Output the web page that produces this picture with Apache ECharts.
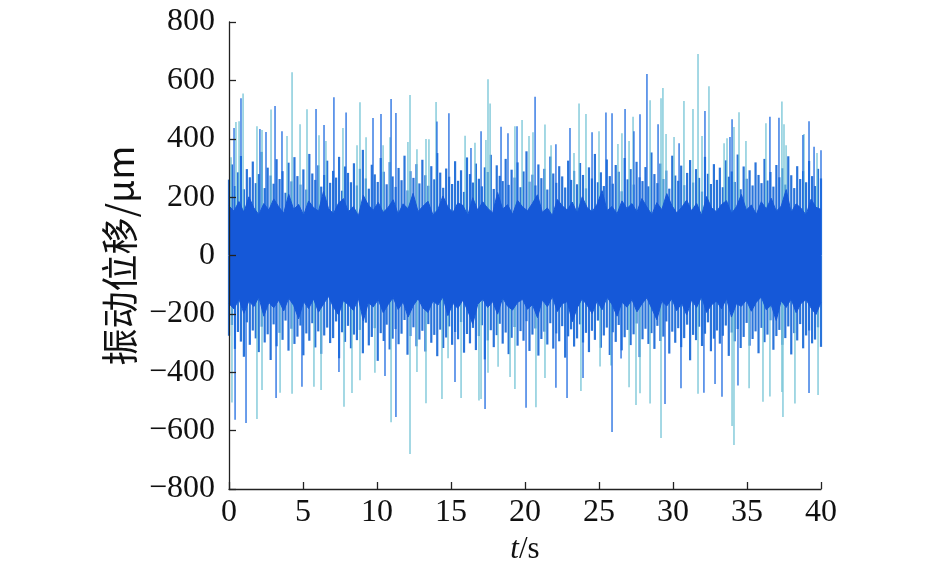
<!DOCTYPE html>
<html lang="zh">
<head>
    <meta charset="UTF-8">
    <script src="https://cdn.jsdelivr.net/npm/echarts@6/dist/echarts.min.js"></script>
    <title>振动位移</title>
</head>
<body style="margin:0;background:#fff;">
    <div id="main" style="width: 945px;height:576px;"></div>
    <script type="text/javascript">
      // 实心核心区的上下包络 (μm)，0~40 s 等间距
      var coreUp = [170,152,185,148,201,163,140,178,156,194,167,145,210,158,175,138,187,164,152,220,
        161,143,179,195,150,168,136,206,173,155,182,148,165,191,142,177,160,213,151,169,
        186,139,158,204,166,147,180,172,138,198,155,184,162,146,216,159,174,141,189,167,
        153,179,208,148,163,137,192,170,156,183,145,201,164,150,176,222,154,168,143,187,
        161,178,149,195,166,140,181,157,212,172,146,165,190,153,179,138,202,163,150,175,
        188,144,167,209,156,173,141,184,160,196,152,169,226,148,177,162,139,193,165,158];
      var coreDown = [-165,-183,-150,-198,-156,-175,-142,-208,-161,-179,-153,-190,-146,-171,-217,-158,-182,-149,-194,-166,
        -140,-177,-203,-155,-169,-188,-147,-224,-162,-176,-151,-196,-168,-144,-185,-159,-211,-173,-148,-180,
        -195,-156,-170,-142,-206,-164,-181,-153,-189,-235,-167,-149,-178,-158,-201,-145,-174,-187,-161,-150,
        -184,-168,-213,-152,-176,-141,-192,-165,-158,-227,-179,-148,-171,-199,-155,-186,-143,-168,-208,-160,
        -177,-151,-193,-166,-145,-182,-220,-157,-173,-148,-189,-163,-204,-152,-178,-141,-195,-169,-156,-183,
        -147,-211,-165,-174,-153,-191,-160,-142,-186,-170,-223,-155,-178,-149,-196,-164,-151,-180,-202,-160];

      // 过渡带的中等幅值
      var midUp = [260,312,238,285,341,227,296,268,322,248,279,355,231,301,274,246,330,262,289,215,
        318,254,337,272,243,295,226,348,281,259,309,236,276,325,249,290,267,338,222,305,
        283,251,316,240,297,362,264,229,311,278,252,334,287,244,320,271,235,300,258,342,
        223,289,266,313,247,328,275,239,306,261,351,284,232,298,270,245,323,256,292,218,
        336,279,250,315,263,237,302,286,345,228,309,273,255,331,242,294,267,319,234,288,
        357,253,277,240,312,265,297,226,339,281,249,306,271,233,325,259,290,244,317,276,
        230,302,264,348,251,285,238,329,272,246,310,287,220,334,261,296,243,321,268,255,
        303,237,353,279,248,315,262,291,229,342,274,256,308,241,283,327,250,296,266,219,
        338,280,245,313,259,301,234,326,270,288,252,346,227,305,263,292,240,319,276,248,
        331,257,286,236,310,268,299,243,340,275,231,306,262,289,251,324,272,238,297,264];
      var midDown = [-275,-238,-320,-262,-295,-347,-229,-306,-257,-284,-331,-244,-298,-270,-358,-236,-311,-265,-289,-223,
        -326,-251,-303,-278,-240,-342,-267,-292,-232,-315,-260,-337,-274,-247,-300,-283,-226,-352,-263,-296,
        -241,-318,-271,-290,-255,-335,-230,-308,-279,-249,-361,-266,-293,-237,-322,-285,-252,-304,-268,-221,
        -340,-276,-246,-311,-288,-258,-329,-235,-299,-272,-345,-254,-317,-281,-243,-306,-262,-287,-228,-333,
        -269,-301,-248,-324,-276,-239,-356,-291,-256,-314,-273,-234,-302,-264,-338,-282,-245,-309,-259,-292,
        -225,-327,-271,-250,-343,-286,-261,-305,-232,-319,-267,-294,-242,-350,-277,-253,-312,-284,-236,-298,
        -265,-331,-258,-289,-223,-316,-274,-247,-341,-263,-296,-238,-325,-280,-255,-307,-270,-233,-348,-287,
        -251,-303,-266,-320,-241,-293,-278,-226,-336,-261,-299,-249,-314,-283,-237,-359,-272,-290,-244,-310,
        -268,-229,-328,-285,-257,-302,-275,-240,-344,-264,-294,-252,-317,-279,-231,-309,-286,-260,-335,-248,
        -297,-271,-222,-323,-276,-255,-306,-283,-243,-339,-266,-291,-235,-318,-274,-257,-301,-288,-246,-313];

      // 峰值 [t(s), 位移(μm)]
      var spikeTeal = [[0.14,337],[0.47,457],[0.68,460],[0.95,555],[1.89,443],[2.23,430],[2.84,500],[3.92,409],
        [4.26,628],[4.80,450],[5.27,501],[6.08,412],[6.55,392],[7.70,437],[8.65,378],[8.85,525],[9.26,405],
        [10.41,378],[10.88,405],[12.09,389],[12.23,550],[12.70,364],[13.31,399],[13.51,398],[13.99,526],
        [15.95,410],[16.62,386],[17.36,396],[17.50,604],[17.64,521],[19.32,443],[19.80,464],[20.27,409],
        [20.54,422],[21.35,449],[21.76,378],[23.31,351],[23.65,521],[24.12,485],[25.00,426],[26.28,382],
        [26.55,419],[27.03,392],[27.30,475],[28.45,532],[29.19,539],[29.32,574],[29.53,416],[30.07,406],
        [30.74,529],[31.35,502],[31.69,690],[31.96,409],[32.43,580],[33.45,385],[33.65,402],[34.12,440],
        [34.46,491],[34.93,392],[36.28,453],[37.36,528],[37.50,450],[37.64,378],[38.85,416],[39.73,351],
        [0.20,-504],[1.89,-560],[2.23,-461],[3.45,-470],[4.26,-474],[5.74,-450],[6.22,-461],[7.77,-518],
        [8.31,-471],[8.85,-427],[9.86,-402],[10.95,-571],[12.23,-680],[12.70,-399],[13.31,-506],[14.39,-492],
        [14.80,-352],[15.68,-488],[16.89,-497],[17.03,-492],[17.50,-402],[18.18,-381],[18.99,-416],[19.32,-457],
        [20.74,-520],[21.35,-420],[23.78,-464],[25.07,-380],[25.81,-377],[27.03,-451],[27.50,-512],[27.77,-472],
        [28.45,-507],[29.19,-625],[31.69,-474],[33.99,-584],[34.12,-649],[35.14,-455],[36.08,-501],[36.55,-483],
        [37.36,-468],[37.43,-553],[38.24,-507],[39.80,-478]];
      var spikeBlue = [[0.34,437],[0.81,539],[2.09,433],[2.50,423],[3.11,512],[3.58,426],[5.88,502],[6.42,447],
        [7.09,542],[7.91,490],[9.73,471],[10.27,485],[10.95,536],[11.28,488],[14.05,459],[14.86,487],
        [16.35,368],[17.03,426],[18.38,441],[18.85,419],[19.46,443],[20.68,544],[22.09,381],[23.04,437],
        [24.53,422],[25.47,490],[25.88,487],[26.76,502],[27.36,426],[27.77,484],[28.24,622],[28.99,450],
        [30.41,385],[32.16,495],[33.85,406],[33.99,467],[36.55,475],[37.16,472],[38.78,413],[39.19,460],
        [39.53,373],[40.00,361],
        [0.41,-563],[1.15,-574],[3.18,-488],[4.93,-450],[7.43,-399],[10.54,-413],[11.28,-553],[15.27,-433],
        [17.30,-526],[20.07,-522],[22.09,-453],[22.84,-488],[23.92,-420],[25.88,-605],[26.49,-353],
        [29.46,-509],[30.54,-455],[32.09,-470],[32.84,-440],[33.31,-484],[34.39,-445],[39.19,-471]];

      var xTicks = [0, 5, 10, 15, 20, 25, 30, 35, 40];
      var yTicks = [-800, -600, -400, -200, 0, 200, 400, 600, 800];

      function spread(arr) {
        return arr.map(function (v, i) { return [i * 40 / (arr.length - 1), v]; });
      }

      var myChart = echarts.init(document.getElementById('main'));
      var serif = '"Liberation Serif", "Times New Roman", serif';
      var coreColor = '#1558d8';

      function hiddenX() {
        return { type: 'value', min: 0, max: 40, show: false, gridIndex: 0, axisLine: { onZero: false } };
      }

      var option = {
        animation: false,
        grid: { left: 229, right: 124, top: 22, bottom: 87 },
        xAxis: [{
          type: 'value', min: xTicks[0], max: xTicks[xTicks.length - 1], interval: 5, z: 10,
          name: '{i|t}/s', nameLocation: 'middle', nameGap: 44,
          nameTextStyle: { fontFamily: serif, fontSize: 31, color: '#111',
            rich: { i: { fontFamily: serif, fontSize: 31, fontStyle: 'italic', color: '#111' } } },
          axisLine: { onZero: false, lineStyle: { color: '#222', width: 1.3 } },
          axisTick: { inside: true, length: 7, lineStyle: { color: '#222', width: 1.3 } },
          axisLabel: { fontFamily: serif, fontSize: 32, color: '#111', margin: 8 },
          splitLine: { show: false }
        }, hiddenX(), hiddenX(), hiddenX(), hiddenX()],
        yAxis: {
          type: 'value', min: yTicks[0], max: yTicks[yTicks.length - 1], interval: 200, z: 10,
          name: '振动位移/μm', nameLocation: 'middle', nameGap: 86, nameRotate: 90,
          nameTextStyle: { fontFamily: '"Noto Sans CJK SC", ' + serif, fontSize: 37, color: '#111' },
          axisLine: { lineStyle: { color: '#222', width: 1.3 } },
          axisTick: { inside: true, length: 7, lineStyle: { color: '#222', width: 1.3 } },
          axisLabel: { fontFamily: serif, fontSize: 32, color: '#111', margin: 14,
            formatter: function (v) { return String(v).replace('-', '\u2212'); } },
          splitLine: { show: false }
        },
        series: [
          { type: 'bar', xAxisIndex: 1, data: spread(midUp), barWidth: 2.2, itemStyle: { color: '#2a74da' }, z: 2 },
          { type: 'bar', xAxisIndex: 2, data: spread(midDown), barWidth: 2.2, itemStyle: { color: '#2a74da' }, z: 2 },
          { type: 'bar', xAxisIndex: 3, data: spikeTeal, barWidth: 1.3, itemStyle: { color: '#74c4d6' }, z: 3 },
          { type: 'bar', xAxisIndex: 4, data: spikeBlue, barWidth: 1.3, itemStyle: { color: '#1c69e0' }, z: 3 },
          { type: 'line', xAxisIndex: 0, data: spread(coreDown), showSymbol: false, z: 4,
            lineStyle: { color: coreColor, width: 1 }, areaStyle: { color: coreColor, opacity: 1 } },
          { type: 'line', xAxisIndex: 0, data: spread(coreUp), showSymbol: false, z: 5,
            lineStyle: { color: coreColor, width: 1 }, areaStyle: { color: coreColor, opacity: 1, origin: -60 } }
        ]
      };

      myChart.setOption(option);
    </script>
</body>
</html>
